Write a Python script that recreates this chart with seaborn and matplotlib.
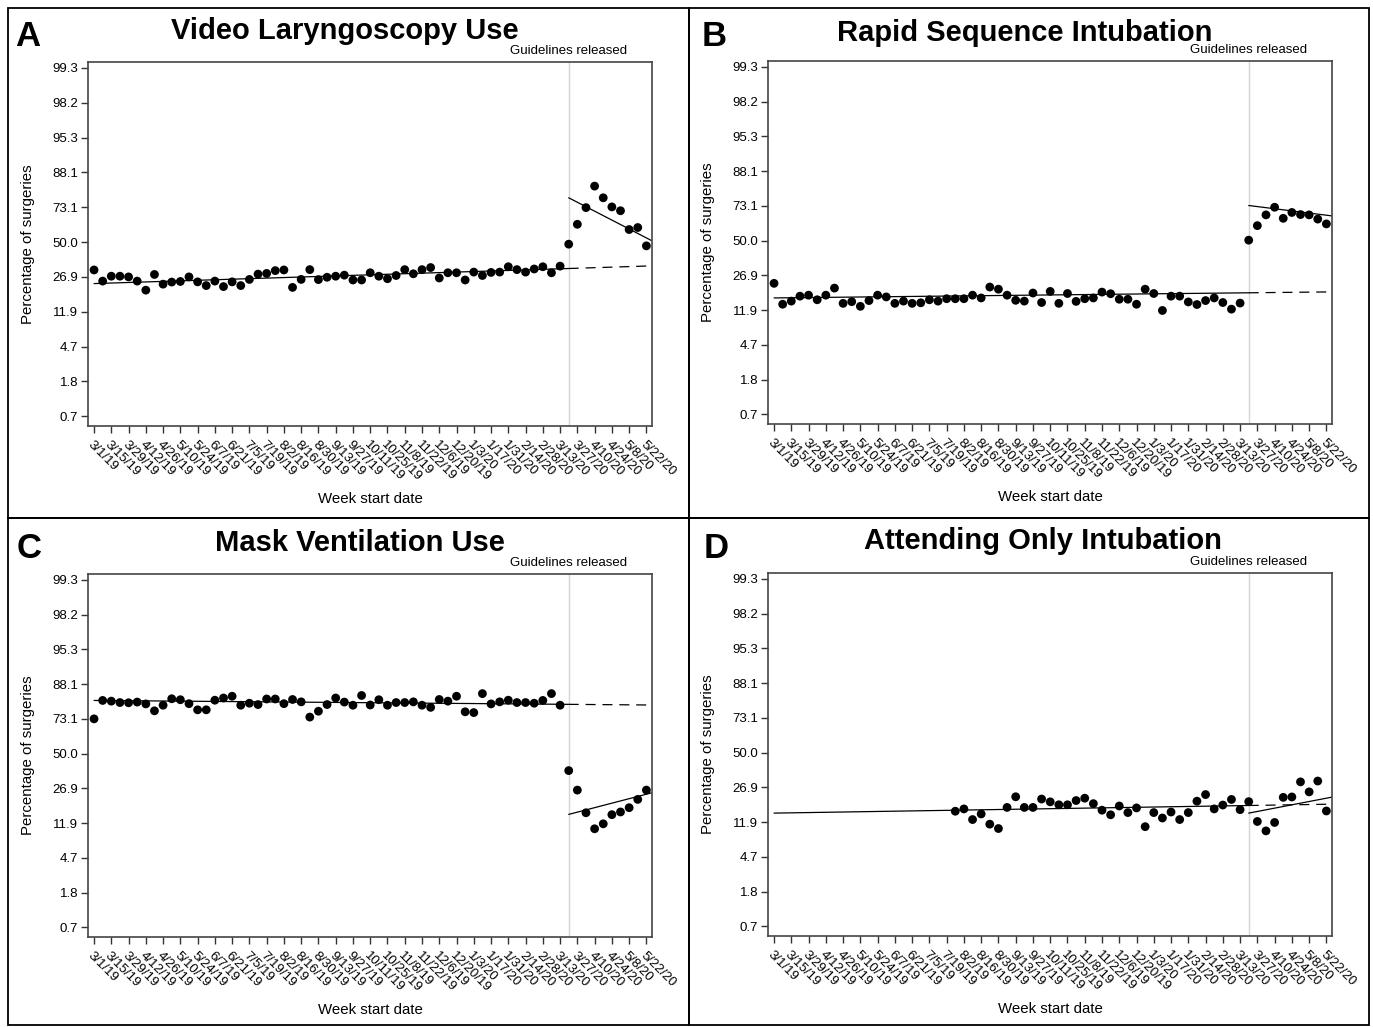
import numpy as np
import pandas as pd
import matplotlib
matplotlib.use("Agg")
import matplotlib.pyplot as plt
import matplotlib.transforms as mtransforms
from matplotlib.ticker import NullLocator, NullFormatter
from matplotlib.patches import Rectangle
import seaborn as sns

# -------------------------------
# data (weekly % of surgeries)
# -------------------------------
week_labels = ["3/1/19", "3/15/19", "3/29/19", "4/12/19", "4/26/19", "5/10/19", "5/24/19",
               "6/7/19", "6/21/19", "7/5/19", "7/19/19", "8/2/19", "8/16/19", "8/30/19",
               "9/13/19", "9/27/19", "10/11/19", "10/25/19", "11/8/19", "11/22/19",
               "12/6/19", "12/20/19", "1/3/20", "1/17/20", "1/31/20", "2/14/20", "2/28/20",
               "3/13/20", "3/27/20", "4/10/20", "4/24/20", "5/8/20", "5/22/20"]
guideline_week = 55

video_pct = [31.0, 24.6, 27.3, 27.3, 26.9, 24.6, 20.1, 28.3, 23.0, 24.1,
             24.4, 26.9, 24.2, 22.3, 24.6, 21.8, 24.2, 22.3, 25.5, 28.5,
             28.9, 30.6, 31.0, 21.4, 25.5, 31.2, 25.4, 26.7, 27.3, 27.9,
             25.2, 25.2, 29.3, 27.3, 25.9, 27.7, 31.2, 28.7, 31.2, 32.5,
             26.3, 29.3, 29.3, 25.2, 29.7, 27.7, 29.5, 29.7, 33.0, 31.2,
             29.7, 31.6, 33.0, 29.3, 33.4, 48.5, 62.5, 72.9, 83.3, 78.1,
             73.3, 71.1, 58.9, 60.3, 47.3]
rsi_pct = [22.6, 13.8, 14.9, 16.8, 17.2, 15.4, 17.2, 20.3, 14.1, 14.7,
           13.1, 15.1, 17.2, 16.5, 14.1, 14.9, 14.1, 14.3, 15.4, 14.9,
           15.8, 15.8, 15.8, 17.2, 16.1, 20.8, 19.8, 17.2, 15.2, 14.9,
           18.1, 14.4, 18.8, 14.1, 17.9, 14.8, 15.8, 16.1, 18.5, 17.8,
           15.6, 15.6, 13.8, 19.8, 17.9, 11.8, 16.8, 16.8, 14.6, 13.7,
           15.1, 16.1, 14.4, 12.2, 14.2, 50.3, 60.6, 67.7, 72.3, 65.5,
           69.2, 67.9, 67.7, 65.0, 61.8]
mask_pct = [73.1, 82.2, 81.9, 81.3, 81.2, 81.5, 80.7, 77.4, 80.1, 82.9,
            82.5, 80.8, 77.9, 77.9, 82.3, 83.2, 83.9, 80.1, 81.0, 80.4,
            82.8, 82.8, 80.8, 82.6, 81.6, 74.1, 77.2, 80.4, 83.2, 81.5,
            80.1, 84.2, 80.2, 82.5, 80.1, 81.3, 81.3, 81.6, 80.1, 79.1,
            82.6, 81.9, 83.9, 76.9, 76.5, 84.9, 80.7, 81.6, 82.3, 81.3,
            81.3, 81.0, 82.2, 84.9, 80.1, 38.0, 25.9, 15.4, 10.3, 11.7,
            14.7, 15.7, 17.4, 21.1, 25.9]
# attending-only data start in late July 2019
attending_pct = [np.nan] * 21 + [
    15.6, 16.5, 12.7, 14.6, 11.3, 10.1, 17.1, 21.9, 17.1,
    17.1, 20.8, 19.5, 18.2, 18.2, 20.1, 21.2, 18.7, 16.0, 14.3,
    17.7, 15.1, 16.9, 10.6, 15.1, 13.2, 15.3, 12.7, 15.1, 19.8,
    23.0, 16.5, 18.1, 20.6, 16.2, 19.6, 12.1, 9.5, 11.8, 21.6,
    21.8, 30.1, 24.4, 30.6, 15.7]

# fitted segments (%): pre = at week 0 and at guideline week; post = at guideline week and last week
video_pre_fit, video_post_fit = [23.3, 31.9], [78.1, 53.0]
rsi_pre_fit, rsi_post_fit = [16.1, 18.2], [73.3, 67.5]
mask_pre_fit, mask_post_fit = [82.2, 80.5], [14.8, 23.7]
attending_pre_fit, attending_post_fit = [14.9, 17.9], [14.9, 21.2]

weeks = np.arange(len(video_pct))
last_week = weeks[-1]

panels = [
    ("A", "Video Laryngoscopy Use", video_pct, video_pre_fit, video_post_fit),
    ("B", "Rapid Sequence Intubation", rsi_pct, rsi_pre_fit, rsi_post_fit),
    ("C", "Mask Ventilation Use", mask_pct, mask_pre_fit, mask_post_fit),
    ("D", "Attending Only Intubation", attending_pct, attending_pre_fit, attending_post_fit),
]

# -------------------------------
# style
# -------------------------------
sns.set_theme(style="white")
plt.rcParams["font.family"] = ["Liberation Sans", "DejaVu Sans"]
plt.rcParams["text.color"] = "black"
plt.rcParams["axes.labelcolor"] = "black"
plt.rcParams["xtick.color"] = "black"
plt.rcParams["ytick.color"] = "black"

W, H = 1373, 1027
fig = plt.figure(figsize=(W / 100, H / 100), dpi=100)


def fx(x):
    return x / W


def fy(y):
    return 1 - y / H


# axes boxes in pixels: left, top, right, bottom
boxes = {"A": (88, 62, 652, 426), "B": (768, 61, 1332, 424),
         "C": (88, 574, 652, 937), "D": (768, 573, 1332, 936)}
# panel frames
frames = {"A": (8, 8, 689, 518), "B": (689, 8, 1369, 518),
          "C": (8, 518, 689, 1025), "D": (689, 518, 1369, 1025)}
title_pos = {"A": (345, 31), "B": (1025, 33), "C": (360, 543), "D": (1043, 541)}
letter_pos = {"A": (28, 37), "B": (714, 36), "C": (29, 548), "D": (716, 549)}


def expit(v):
    return 1 / (1 + np.exp(-np.asarray(v, dtype=float)))


def logit(p):
    p = np.asarray(p, dtype=float)
    return np.log(p / (1 - p))


logit_ticks = np.arange(-5, 6)
tick_props = expit(logit_ticks)
tick_text = ["%.1f" % (100 * p) for p in tick_props]
ylim_logit = (-5.28, 5.17)
xlim = (-0.7, 64.65)

for key, title, pct, pre_fit, post_fit in panels:
    l, t, r, b = boxes[key]
    ax = fig.add_axes([fx(l), fy(b), fx(r - l), (b - t) / H])

    df = pd.DataFrame({"week": weeks, "prop": np.array(pct, dtype=float) / 100})
    df = df.dropna()

    ax.set_yscale("logit")

    # guideline release
    ax.axvline(guideline_week, color="#d4d4d4", lw=1, zorder=1)

    # pre-period trend and its projection
    pre = logit(np.array(pre_fit) / 100)
    slope_pre = (pre[1] - pre[0]) / guideline_week
    ax.plot([0, guideline_week], expit(pre), color="black", lw=0.9, zorder=2)
    ax.plot([guideline_week, xlim[1]],
            expit([pre[1], pre[1] + slope_pre * (xlim[1] - guideline_week)]),
            color="black", lw=0.9, dashes=(8, 5.5), zorder=2)

    # post-period trend
    post = logit(np.array(post_fit) / 100)
    slope_post = (post[1] - post[0]) / (last_week - guideline_week)
    ax.plot([guideline_week, xlim[1]],
            expit([post[0], post[0] + slope_post * (xlim[1] - guideline_week)]),
            color="black", lw=0.9, zorder=2)

    sns.scatterplot(data=df, x="week", y="prop", ax=ax, color="black",
                    s=40, edgecolor="none", linewidth=0, zorder=3)

    ax.set_xlim(*xlim)
    ax.set_ylim(expit(ylim_logit[0]), expit(ylim_logit[1]))
    ax.set_yticks(tick_props)
    ax.set_yticklabels(tick_text)
    ax.yaxis.set_minor_locator(NullLocator())
    ax.yaxis.set_minor_formatter(NullFormatter())
    ax.set_xticks(weeks[::2])
    ax.set_xticklabels(week_labels, rotation=-45, ha="left", va="top",
                       rotation_mode="anchor")

    ax.tick_params(axis="both", which="major", direction="out", length=5,
                   width=1, color="#333333", labelsize=9.5, left=True, bottom=True)
    ax.tick_params(axis="y", pad=2)
    ax.tick_params(axis="x", pad=4)
    for s in ax.spines.values():
        s.set_color("#444444")
        s.set_linewidth(1.2)

    ax.set_xlabel("Week start date", fontsize=10.8, va="center")
    ax.xaxis.set_label_coords(0.5, -0.2)
    ax.set_ylabel("Percentage of surgeries", fontsize=10.8, va="center")
    ax.yaxis.set_label_coords(-0.106, 0.5)

    # label for the guideline line, centred on it just above the frame
    trans = mtransforms.blended_transform_factory(ax.transData, ax.transAxes)
    ax.text(guideline_week, 1.013, "Guidelines released", transform=trans,
            ha="center", va="bottom", fontsize=9.5)

    # frame, title and panel letter
    fl, ft, fr, fb = frames[key]
    fig.patches.append(Rectangle((fx(fl), fy(fb)), fx(fr - fl), (fb - ft) / H,
                                 transform=fig.transFigure, fill=False,
                                 edgecolor="black", lw=1.3))
    tx, ty = title_pos[key]
    fig.text(fx(tx), fy(ty), title, ha="center", va="center",
             fontsize=21, fontweight="bold")
    lx, ly = letter_pos[key]
    fig.text(fx(lx), fy(ly), key, ha="center", va="center",
             fontsize=25, fontweight="bold")

fig.savefig("out.png", dpi=100)
